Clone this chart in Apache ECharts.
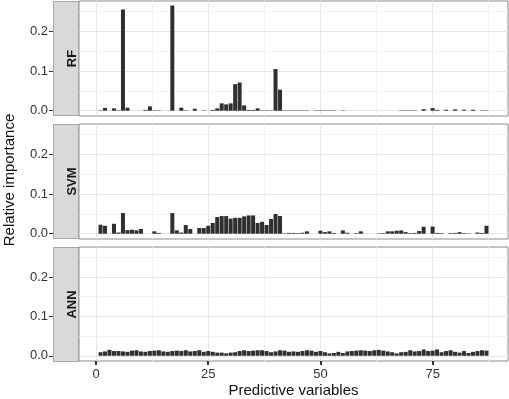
<!DOCTYPE html>
<html>
<head>
<meta charset="utf-8">
<script src="https://cdn.jsdelivr.net/npm/echarts@6/dist/echarts.min.js"></script>
<style>
  html, body { margin: 0; padding: 0; background: #fff; }
  #chart { width: 509px; height: 399px; }
</style>
</head>
<body>
<div id="chart"></div>
<script>
const panelNames = ['RF', 'SVM', 'ANN'];

const variables = [
  1, 2, 3, 4, 5, 6, 7, 8, 9, 10, 11, 12, 13, 14, 15, 16, 17, 18, 19, 20,
  21, 22, 23, 24, 25, 26, 27, 28, 29, 30, 31, 32, 33, 34, 35, 36, 37, 38, 39, 40,
  41, 42, 43, 44, 45, 46, 47, 48, 49, 50, 51, 52, 53, 54, 55, 56, 57, 58, 59, 60,
  61, 62, 63, 64, 65, 66, 67, 68, 69, 70, 71, 72, 73, 74, 75, 76, 77, 78, 79, 80,
  81, 82, 83, 84, 85, 86, 87
];

const rfImportance = [
  0.001, 0.007, 0, 0.006, 0.001, 0.255, 0.0076, 0, 0, 0,
  0.002, 0.011, 0.001, 0.001, 0, 0, 0.265, 0, 0.0076, 0.001,
  0, 0.005, 0, 0.001, 0, 0.002, 0.006, 0.0185, 0.016, 0.0185,
  0.067, 0.071, 0.0134, 0.002, 0.002, 0.006, 0.001, 0.001, 0.001, 0.105,
  0.053, 0.001, 0.001, 0.001, 0.001, 0.001, 0.001, 0, 0.001, 0.001,
  0.001, 0.001, 0.001, 0, 0.001, 0, 0, 0, 0, 0,
  0, 0, 0, 0, 0, 0, 0, 0.001, 0.001, 0.001,
  0.001, 0, 0.004, 0, 0.0067, 0.002, 0, 0.0025, 0, 0.0034,
  0, 0.0025, 0, 0.0025, 0, 0.001, 0.001
];

const svmImportance = [
  0.0227, 0.020, 0, 0.025, 0.003, 0.052, 0.009, 0.010, 0.0085, 0.012,
  0, 0, 0.006, 0.002, 0, 0, 0.052, 0.0085, 0.003, 0.022,
  0.012, 0, 0.0143, 0.0143, 0.020, 0.027, 0.042, 0.0445, 0.0445, 0.038,
  0.040, 0.040, 0.0437, 0.046, 0.046, 0.027, 0.030, 0.022, 0.037, 0.0496,
  0.0445, 0.001, 0.002, 0.002, 0.0015, 0.0025, 0.006, 0, 0, 0.0075,
  0.004, 0.006, 0.002, 0, 0.0083, 0.0025, 0, 0.0015, 0.006, 0,
  0, 0, 0.001, 0.0015, 0.006, 0.006, 0.0075, 0.0083, 0.004, 0.0015,
  0.002, 0.0067, 0.0175, 0, 0.018, 0.002, 0.0015, 0, 0.0015, 0.002,
  0.004, 0.0015, 0.001, 0, 0.003, 0.002, 0.020
];

const annImportance = [
  0.009, 0.011, 0.015, 0.012, 0.012, 0.011, 0.010, 0.013, 0.014, 0.011,
  0.010, 0.012, 0.013, 0.014, 0.011, 0.010, 0.012, 0.013, 0.012, 0.014,
  0.011, 0.012, 0.014, 0.010, 0.012, 0.010, 0.008, 0.008, 0.006, 0.008,
  0.009, 0.012, 0.014, 0.012, 0.013, 0.014, 0.014, 0.012, 0.009, 0.011,
  0.014, 0.013, 0.010, 0.011, 0.010, 0.012, 0.014, 0.013, 0.010, 0.012,
  0.009, 0.006, 0.007, 0.010, 0.007, 0.011, 0.012, 0.013, 0.014, 0.013,
  0.012, 0.014, 0.015, 0.013, 0.011, 0.009, 0.006, 0.009, 0.010, 0.014,
  0.011, 0.012, 0.016, 0.012, 0.013, 0.016, 0.009, 0.012, 0.014, 0.010,
  0.008, 0.012, 0.007, 0.010, 0.012, 0.014, 0.013
];

const xTicks = [0, 25, 50, 75];
const xMinorTicks = [12.5, 37.5, 62.5, 87.5];
const yTicks = [0, 0.1, 0.2];
const yMinorTicks = [0.05, 0.15, 0.25];

const panelValues = [rfImportance, svmImportance, annImportance];

// layout
const FONT = '"Liberation Sans", Arial, sans-serif';
const plotLeft = 79;
const stripWidth = 26;
const panelTops = [1, 124, 247];
const panelHeight = 115;
const xMin = -3.795, xMax = 91.795;
const yMin = -0.0133, yMax = 0.2763;

const chart = echarts.init(document.getElementById('chart'));

const grid = panelTops.map(top => ({
  left: plotLeft, right: 1, top: top, height: panelHeight,
  show: true, borderColor: '#8c8c8c', borderWidth: 1, backgroundColor: '#fff'
}));

const xAxis = [];
const yAxis = [];
panelNames.forEach((name, i) => {
  const last = i === panelNames.length - 1;
  xAxis.push({
    gridIndex: i, type: 'value', min: xMin, max: xMax, position: 'bottom',
    axisLine: { show: false, onZero: false },
    axisTick: { show: last, customValues: xTicks, length: 4, lineStyle: { color: '#333', width: 2 } },
    axisLabel: { show: last, customValues: xTicks, margin: 7, color: '#333', fontSize: 13, fontFamily: FONT },
    splitLine: { show: true, lineStyle: { color: '#e6e6e6', width: 1 } },
    name: last ? 'Predictive variables' : '',
    nameLocation: 'middle', nameGap: 22,
    nameTextStyle: { fontSize: 15, color: '#111', fontFamily: FONT }
  });
  xAxis.push({
    gridIndex: i, type: 'value', min: xMin, max: xMax, position: 'bottom',
    axisLine: { show: false, onZero: false },
    axisTick: { show: false, customValues: xMinorTicks },
    axisLabel: { show: false },
    splitLine: { show: true, lineStyle: { color: '#f2f2f2', width: 1 } }
  });
  yAxis.push({
    gridIndex: i, type: 'value', min: yMin, max: yMax, offset: stripWidth, position: 'left',
    axisLine: { show: false, onZero: false },
    axisTick: { show: true, customValues: yTicks, length: 4, lineStyle: { color: '#333' } },
    axisLabel: {
      customValues: yTicks, margin: 5, color: '#333', fontSize: 13, fontFamily: FONT,
      formatter: v => v.toFixed(1)
    },
    splitLine: { show: true, lineStyle: { color: '#e6e6e6', width: 1 } }
  });
  yAxis.push({
    gridIndex: i, type: 'value', min: yMin, max: yMax, position: 'left',
    axisLine: { show: false, onZero: false },
    axisTick: { show: false, customValues: yMinorTicks },
    axisLabel: { show: false },
    splitLine: { show: true, lineStyle: { color: '#f2f2f2', width: 1 } }
  });
});

const series = panelValues.map((vals, i) => ({
  name: panelNames[i],
  type: 'bar',
  xAxisIndex: i * 2,
  yAxisIndex: i * 2,
  barWidth: 4,
  itemStyle: { color: '#2f2f2f' },
  silent: true,
  data: variables.map((v, j) => [v, vals[j]])
}));

// facet strips on the left side + shared y title
const graphic = [];
panelNames.forEach((name, i) => {
  const top = panelTops[i];
  graphic.push({
    type: 'rect',
    shape: { x: plotLeft - stripWidth + 0.5, y: top + 0.5, width: stripWidth - 1, height: panelHeight - 1 },
    style: { fill: '#d9d9d9', stroke: '#a6a6a6', lineWidth: 1 }
  });
  graphic.push({
    type: 'text',
    x: plotLeft - stripWidth / 2 + 6, y: top + panelHeight / 2,
    rotation: Math.PI / 2,
    style: {
      text: name, fill: '#1a1a1a', font: 'bold 13px ' + FONT,
      align: 'center', verticalAlign: 'middle'
    }
  });
});
graphic.push({
  type: 'text',
  x: 10, y: 180,
  rotation: Math.PI / 2,
  style: {
    text: 'Relative importance', fill: '#111', font: '15px ' + FONT,
    align: 'center', verticalAlign: 'middle'
  }
});

chart.setOption({
  animation: false,
  grid: grid,
  xAxis: xAxis,
  yAxis: yAxis,
  series: series,
  graphic: graphic
});
</script>
</body>
</html>
